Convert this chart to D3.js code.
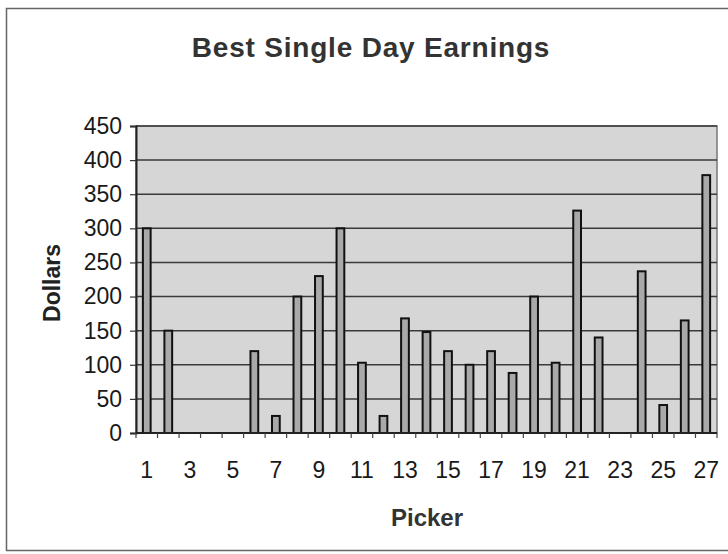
<!DOCTYPE html>
<html>
<head>
<meta charset="utf-8">
<script src="https://cdn.jsdelivr.net/npm/d3@7"></script>
<style>
  body { margin: 0; background: #fff; }
  svg { display: block; font-family: "Liberation Sans", Arial, sans-serif; }
</style>
</head>
<body>
<div id="chart"></div>
<script>
// picker numbers and their best single day earnings (dollars)
var pickers = d3.range(1, 28);
var earnings = [300, 150, 0, 0, 0, 120, 25, 200, 230, 300, 103, 25, 168, 148, 120,
                100, 120, 88, 200, 103, 326, 140, 0, 237, 41, 165, 378];
var yTicks = [0, 50, 100, 150, 200, 250, 300, 350, 400, 450];
var xLabels = [1, 3, 5, 7, 9, 11, 13, 15, 17, 19, 21, 23, 25, 27];

var width = 728;
var height = 554;
var margin = { top: 126, right: 11, bottom: 121, left: 136 };
var plotW = width - margin.left - margin.right;
var plotH = height - margin.top - margin.bottom;

var data = pickers.map(function(p, i) {
    return { picker: p, value: earnings[i] };
});

var svg = d3.select('#chart')
    .append('svg')
    .attr('width', width)
    .attr('height', height);

// outer chart frame
svg.append('rect')
    .attr('x', 6.5).attr('y', 8.5)
    .attr('width', 740).attr('height', 542)
    .attr('fill', 'none')
    .attr('stroke', '#666')
    .attr('stroke-width', 1.5);

var g = svg.append('g')
    .attr('transform', 'translate(' + margin.left + ',' + margin.top + ')');

var x = d3.scaleBand()
    .domain(pickers)
    .range([0, plotW])
    .padding(0);

var y = d3.scaleLinear()
    .domain([0, 450])
    .range([plotH, 0]);

// plot area
g.append('rect')
    .attr('width', plotW)
    .attr('height', plotH)
    .attr('fill', '#d6d6d6')
    .attr('stroke', '#777')
    .attr('stroke-width', 1.5);

// gridlines
g.selectAll('.grid')
    .data(yTicks.filter(function(d) { return d > 0; }))
    .enter()
    .append('line')
    .attr('x1', 0).attr('x2', plotW)
    .attr('y1', function(d) { return y(d); })
    .attr('y2', function(d) { return y(d); })
    .attr('stroke', '#3a3a3a')
    .attr('stroke-width', 1.5);

// bars
var barW = x.bandwidth() * 0.36;
g.selectAll('.bar')
    .data(data.filter(function(d) { return d.value > 0; }))
    .enter()
    .append('rect')
    .attr('x', function(d) { return x(d.picker) + (x.bandwidth() - barW) / 2; })
    .attr('y', function(d) { return y(d.value); })
    .attr('width', barW)
    .attr('height', function(d) { return plotH - y(d.value); })
    .attr('fill', '#a9a9a9')
    .attr('stroke', '#111')
    .attr('stroke-width', 2);

// y axis
var yAxis = g.append('g')
    .call(d3.axisLeft(y).tickValues(yTicks).tickSize(6).tickPadding(8));
yAxis.select('.domain').attr('stroke', '#222').attr('stroke-width', 2);
yAxis.selectAll('.tick line').attr('stroke', '#333').attr('stroke-width', 1.2);
yAxis.selectAll('.tick text')
    .attr('font-size', 23)
    .attr('fill', '#1a1a1a')
    .attr('font-family', '"Liberation Sans", Arial, sans-serif');

// x axis: ticks at category boundaries, labels on odd pickers
var xAxis = g.append('g')
    .attr('transform', 'translate(0,' + plotH + ')');
xAxis.append('line')
    .attr('x1', 0).attr('x2', plotW)
    .attr('stroke', '#222').attr('stroke-width', 2);
xAxis.selectAll('.xtick')
    .data(pickers.concat([28]))
    .enter()
    .append('line')
    .attr('x1', function(d) { return d <= 27 ? x(d) : plotW; })
    .attr('x2', function(d) { return d <= 27 ? x(d) : plotW; })
    .attr('y1', 0).attr('y2', 5)
    .attr('stroke', '#444').attr('stroke-width', 1.2);
xAxis.selectAll('.xlab')
    .data(xLabels)
    .enter()
    .append('text')
    .attr('x', function(d) { return x(d) + x.bandwidth() / 2; })
    .attr('y', 45)
    .attr('text-anchor', 'middle')
    .attr('font-size', 23)
    .attr('fill', '#1a1a1a')
    .text(function(d) { return d; });

// titles
svg.append('text')
    .attr('x', 371).attr('y', 57)
    .attr('text-anchor', 'middle')
    .attr('font-size', 28)
    .attr('font-weight', 'bold')
    .attr('letter-spacing', 0.8)
    .attr('fill', '#333')
    .text('Best Single Day Earnings');

svg.append('text')
    .attr('x', 427).attr('y', 526)
    .attr('text-anchor', 'middle')
    .attr('font-size', 24)
    .attr('font-weight', 'bold')
    .attr('fill', '#333')
    .text('Picker');

svg.append('text')
    .attr('transform', 'translate(60,283) rotate(-90)')
    .attr('text-anchor', 'middle')
    .attr('font-size', 23)
    .attr('font-weight', 'bold')
    .attr('fill', '#222')
    .text('Dollars');
</script>
</body>
</html>
